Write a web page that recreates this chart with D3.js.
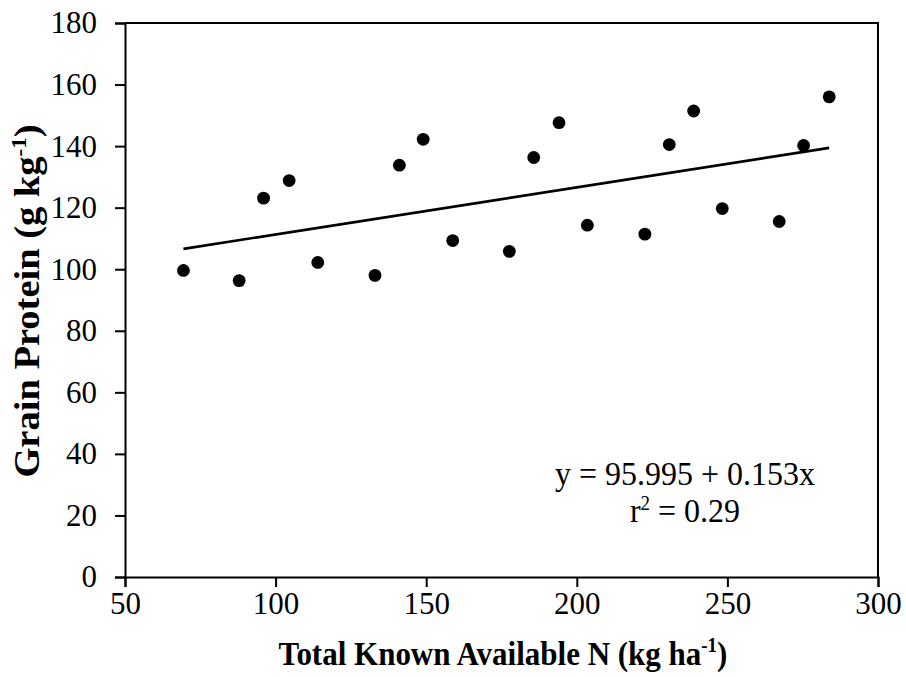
<!DOCTYPE html>
<html>
<head>
<meta charset="utf-8">
<script src="https://cdn.jsdelivr.net/npm/d3@7"></script>
<style>
  html, body { margin: 0; padding: 0; background: #fff; }
  svg { display: block; }
  text { font-family: "Liberation Serif", "Times New Roman", serif; fill: #000; }
</style>
</head>
<body>
<svg id="chart" width="906" height="677"></svg>
<script>
// Data
const availableN = [69.4, 87.9, 96.0, 104.5, 114.0, 133.0, 141.1, 149.0, 158.8, 177.6,
                    185.7, 194.1, 203.5, 222.6, 230.7, 238.8, 248.3, 267.2, 275.3, 283.8];
const grainProtein = [99.6, 96.3, 123.1, 128.8, 102.2, 98.0, 133.8, 142.2, 109.3, 105.8,
                      136.3, 147.6, 114.3, 111.4, 140.5, 151.4, 119.7, 115.5, 140.2, 156.0];
const xTicks = [50, 100, 150, 200, 250, 300];
const yTicks = [0, 20, 40, 60, 80, 100, 120, 140, 160, 180];
const intercept = 95.995;
const slope = 0.153;
const equationText = "y = 95.995 + 0.153x";

(function () {
const svg = d3.select("#chart");
const mLeft = 125, mRight = 878, mTop = 23, mBottom = 577;

const x = d3.scaleLinear().domain([50, 300]).range([mLeft, mRight]);
const y = d3.scaleLinear().domain([0, 180]).range([mBottom, mTop]);

// Frame (top & right)
svg.append("path")
  .attr("d", `M${mLeft},${mTop}H${mRight}V${mBottom}`)
  .attr("fill", "none").attr("stroke", "#000").attr("stroke-width", 2);

// Axes
const xAxis = svg.append("g").attr("transform", `translate(0,${mBottom})`)
  .call(d3.axisBottom(x).tickValues(xTicks).tickSizeOuter(0).tickSize(10).tickPadding(5));
const yAxis = svg.append("g").attr("transform", `translate(${mLeft},0)`)
  .call(d3.axisLeft(y).tickValues(yTicks).tickSizeOuter(0).tickSize(10).tickPadding(18));

[xAxis, yAxis].forEach(g => {
  g.select(".domain").attr("stroke", "#000").attr("stroke-width", 2);
  g.selectAll(".tick line").attr("stroke", "#000").attr("stroke-width", 2);
  g.selectAll(".tick text")
    .style("font-family", '"Liberation Serif", "Times New Roman", serif')
    .style("font-size", "31px").attr("fill", "#000");
});

// Trend line
const xs = d3.extent(availableN);
svg.append("line")
  .attr("x1", x(xs[0])).attr("y1", y(intercept + slope * xs[0]))
  .attr("x2", x(xs[1])).attr("y2", y(intercept + slope * xs[1]))
  .attr("stroke", "#000").attr("stroke-width", 2.6);

// Points
svg.append("g").selectAll("circle")
  .data(availableN.map((d, i) => [d, grainProtein[i]]))
  .join("circle")
  .attr("cx", d => x(d[0])).attr("cy", d => y(d[1]))
  .attr("r", 6.4).attr("fill", "#000");

// Equation
svg.append("text").attr("transform", "translate(685,485) scale(1,1.08)")
  .attr("text-anchor", "middle")
  .style("font-size", "32px").text(equationText);
const r2 = svg.append("text").attr("transform", "translate(685,522) scale(1,1.08)")
  .attr("text-anchor", "middle")
  .style("font-size", "32px");
r2.append("tspan").text("r");
r2.append("tspan").attr("dy", -11).style("font-size", "19px").text("2");
r2.append("tspan").attr("dy", 11).text(" = 0.29");

// Axis titles
const xt = svg.append("text").attr("transform", "translate(503,665) scale(1,1.08)")
  .attr("text-anchor", "middle")
  .style("font-size", "31px").style("font-weight", "bold");
xt.append("tspan").text("Total Known Available N (kg ha");
xt.append("tspan").attr("dy", -12).style("font-size", "19px").text("-1");
xt.append("tspan").attr("dy", 12).text(")");

const yt = svg.append("text").attr("transform", "translate(39,301) scale(1,1.1) rotate(-90)")
  .attr("text-anchor", "middle")
  .style("font-size", "35px").style("font-weight", "bold");
yt.append("tspan").text("Grain Protein (g kg");
yt.append("tspan").attr("dy", -13).style("font-size", "21px").text("-1");
yt.append("tspan").attr("dy", 13).text(")");
})();
</script>
</body>
</html>
